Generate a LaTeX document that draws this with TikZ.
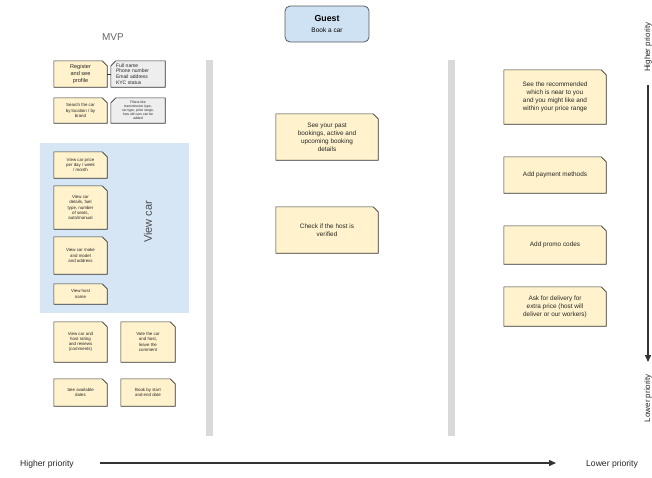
\documentclass[tikz,border=0pt]{standalone}
\usepackage{fontspec}
\setmainfont{Liberation Sans}
\usetikzlibrary{backgrounds,arrows.meta}
\definecolor{notefill}{HTML}{FFF2CC}
\definecolor{noteline}{HTML}{333333}
\definecolor{grayfill}{HTML}{EEEEEE}
\definecolor{bluefill}{HTML}{CFE2F3}
\definecolor{barfill}{HTML}{D9D9D9}
\definecolor{txtgray}{HTML}{666666}
\tikzset{
  x=1pt,y=-1pt,
  note/.style={rectangle, inner sep=1pt, align=center, text=black!85},
  tinytxt/.style={font=\fontsize{4.4}{5.2}\selectfont},
  smalltxt/.style={font=\fontsize{6.4}{8}\selectfont},
  noteshape/.style={fill=notefill, draw=noteline, line width=0.6pt},
  grayshape/.style={fill=grayfill, draw=noteline, line width=0.6pt},
  arrowline/.style={line width=1.4pt, draw=black!80, -{Triangle[length=7pt,width=6pt]}},
  prio/.style={font=\fontsize{8}{10}\selectfont, text=black!85},
}
\newcommand{\cutTR}[2][noteshape]{%
  \draw[#1] (#2.south west) -- (#2.north west) -- ([xshift=-5pt]#2.north east)
    -- ([yshift=-5pt]#2.north east) -- (#2.south east) -- cycle;}
\newcommand{\cutTL}[2][grayshape]{%
  \draw[#1] (#2.south west) -- ([yshift=-5pt]#2.north west) -- ([xshift=5pt]#2.north west)
    -- (#2.north east) -- (#2.south east) -- cycle;}
\begin{document}
\begin{tikzpicture}
\useasboundingbox (0,0) rectangle (652,477);

% title
\node[font=\fontsize{10}{12}\selectfont, text=txtgray] (mvp) at (113,37) {MVP};
\node[draw=black!65, fill=bluefill, line width=0.8pt, rounded corners=5pt,
      minimum width=84pt, minimum height=36pt, align=center] (guest) at (327,24)
      {{\fontsize{8.8}{10}\selectfont\bfseries Guest}\\[-1pt]{\fontsize{6.5}{8}\selectfont Book a car}};

% left column
\node[note, minimum width=53pt, minimum height=26pt, font=\fontsize{5.6}{6.6}\selectfont] (reg) at (80.5,74) {Register\\and see\\profile};
\node[note, minimum width=54pt, minimum height=26pt, font=\fontsize{5}{5.6}\selectfont, align=left, text width=44pt] (regd) at (138,74) {Full name\\Phone number\\Email address\\KYC status};
\node[note, tinytxt, minimum width=53pt, minimum height=25pt] (search) at (80.5,110.5) {Search the car\\by location / by\\brand};
\node[note, minimum width=54pt, minimum height=25pt, font=\fontsize{3.4}{4.1}\selectfont] (searchd) at (138,110.5) {Filters like\\transmission type,\\car type, price range,\\how old cars can be\\added};

\node[note, tinytxt, minimum width=53pt, minimum height=26pt] (vprice) at (80.5,165) {View car price\\per day / week\\/ month};
\node[note, tinytxt, minimum width=53pt, minimum height=43pt] (vdet) at (80.5,207.5) {View car\\details, fuel\\type, number\\of seats,\\auto/manual};
\node[note, tinytxt, minimum width=53pt, minimum height=37pt] (vmake) at (80.5,255.5) {View car make\\and model\\and address};
\node[note, tinytxt, minimum width=53pt, minimum height=20pt] (vhost) at (80.5,294) {View host\\name};
\node[rotate=90, font=\fontsize{11}{13}\selectfont, text=black!70] (viewcar) at (148,222) {View car};

\node[note, tinytxt, minimum width=53pt, minimum height=40pt] (vrate) at (80.5,342) {View car and\\host rating\\and reviews\\(comments)};
\node[note, tinytxt, minimum width=54pt, minimum height=40pt] (vote) at (148,342) {Vote the car\\and host,\\leave the\\comment};
\node[note, tinytxt, minimum width=53pt, minimum height=27pt] (dates) at (80.5,392.5) {See available\\dates};
\node[note, tinytxt, minimum width=54pt, minimum height=27pt] (book) at (148,392.5) {Book by start\\and end date};

% middle column
\node[note, smalltxt, minimum width=102pt, minimum height=46pt] (past) at (327,137) {See your past\\bookings, active and\\upcoming booking\\details};
\node[note, smalltxt, minimum width=102pt, minimum height=46pt] (verify) at (327,230) {Check if the host is\\verified};

% right column
\node[note, smalltxt, minimum width=102pt, minimum height=54pt] (rec) at (555,97) {See the recommended\\which is near to you\\and you might like and\\within your price range};
\node[note, smalltxt, minimum width=102pt, minimum height=36pt] (pay) at (555,175) {Add payment methods};
\node[note, smalltxt, minimum width=102pt, minimum height=38pt] (promo) at (555,245) {Add promo codes};
\node[note, smalltxt, minimum width=102pt, minimum height=39pt] (deliv) at (555,306.5) {Ask for delivery for\\extra price (host will\\deliver or our workers)};

% shapes behind text
\begin{scope}[on background layer]
  \fill[barfill] (206,60) rectangle (213,436);
  \fill[barfill] (448,60) rectangle (455,436);
  \fill[bluefill!85] (40,143) rectangle (189,313);
  \foreach \n in {reg,search,vprice,vdet,vmake,vhost,vrate,vote,dates,book,past,verify,rec,pay,promo,deliv}{\cutTR{\n}}
  \foreach \n in {regd,searchd}{\cutTL{\n}}
\end{scope}
\draw[line width=0.8pt, draw=noteline] (reg.east) -- (regd.west);

% priority arrows
\node[prio, rotate=90] (vhigh) at (648,47) {Higher priority};
\node[prio, rotate=90] (vlow) at (648,398) {Lower priority};
\coordinate (vtop) at (648,85);
\coordinate (vbot) at (648,362);
\draw[arrowline] (vtop) -- (vbot);

\node[prio, font=\fontsize{8.6}{10}\selectfont] (hhigh) at (47,464) {Higher priority};
\node[prio, font=\fontsize{8.6}{10}\selectfont] (hlow) at (612,464) {Lower priority};
\coordinate (hleft) at (100,463);
\coordinate (hright) at (556,463);
\draw[arrowline] (hleft) -- (hright);
\end{tikzpicture}
\end{document}
